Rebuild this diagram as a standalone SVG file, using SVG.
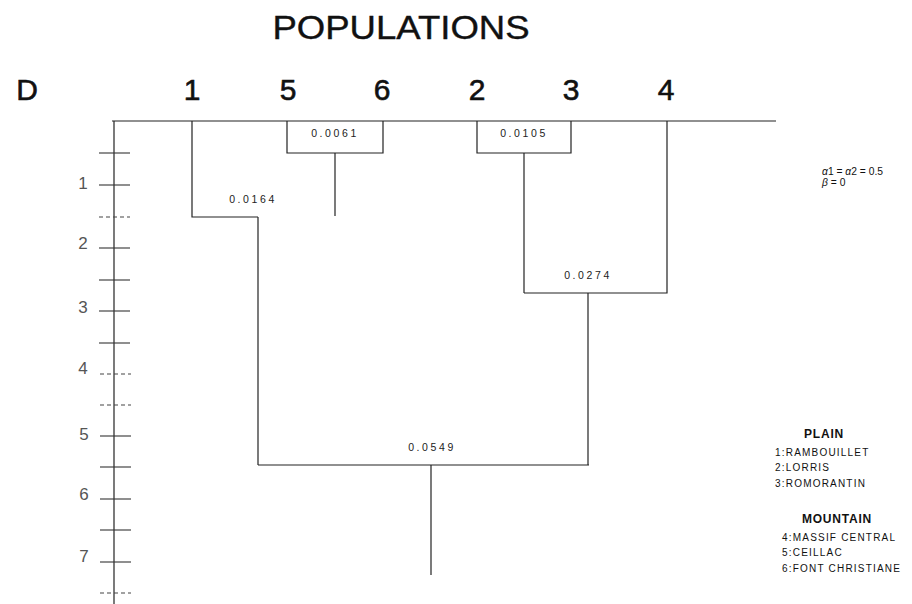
<svg xmlns="http://www.w3.org/2000/svg" width="912" height="604" viewBox="0 0 912 604">
<style>
.ln{stroke:#222;stroke-width:1.2;fill:none}
.tk{stroke:#333;stroke-width:1.1}
.dt{stroke:#444;stroke-width:1.1;stroke-dasharray:4 3}
.big{font-family:"Liberation Sans",Arial,sans-serif;font-size:30px;fill:#111;stroke:#111;stroke-width:0.6;text-anchor:middle}
.val{font-family:"Liberation Sans",Arial,sans-serif;font-size:10.5px;letter-spacing:2.6px;fill:#222;text-anchor:middle}
.ax{font-family:"Liberation Sans",Arial,sans-serif;font-size:17px;fill:#555;text-anchor:middle}
.lg{font-family:"Liberation Sans",Arial,sans-serif;font-size:10px;letter-spacing:1.2px;fill:#111}
.lh{font-family:"Liberation Sans",Arial,sans-serif;font-size:12px;font-weight:bold;letter-spacing:0.8px;fill:#111;text-anchor:middle}
.pr{font-family:"Liberation Sans",Arial,sans-serif;font-size:10.3px;fill:#111}
</style>
<rect width="912" height="604" fill="#fff"/>
<text x="401" y="39" font-family="'Liberation Sans',Arial,sans-serif" font-size="34" fill="#111" stroke="#111" stroke-width="0.4" text-anchor="middle" textLength="257" lengthAdjust="spacingAndGlyphs">POPULATIONS</text>
<text x="27" y="100" class="big">D</text>
<g id="leaf1"><text x="192" y="100" class="big">1</text></g>
<g id="leaf5"><text x="288" y="100" class="big">5</text></g>
<g id="leaf6"><text x="382" y="100" class="big">6</text></g>
<g id="leaf2"><text x="477" y="100" class="big">2</text></g>
<g id="leaf3"><text x="571" y="100" class="big">3</text></g>
<g id="leaf4"><text x="666" y="100" class="big">4</text></g>
<g id="axis">
<line x1="114" y1="121" x2="114" y2="604" class="ln"/>
<line x1="99" y1="153" x2="130" y2="153" class="tk"/>
<line x1="99" y1="185" x2="130" y2="185" class="tk"/>
<line x1="99" y1="217" x2="130" y2="217" class="dt"/>
<line x1="99" y1="248" x2="130" y2="248" class="tk"/>
<line x1="99" y1="280" x2="130" y2="280" class="tk"/>
<line x1="99" y1="311" x2="130" y2="311" class="tk"/>
<line x1="99" y1="343" x2="130" y2="343" class="tk"/>
<line x1="100" y1="374" x2="131" y2="374" class="dt"/>
<line x1="100" y1="405" x2="131" y2="405" class="dt"/>
<line x1="100" y1="436" x2="131" y2="436" class="tk"/>
<line x1="100" y1="467" x2="131" y2="467" class="tk"/>
<line x1="100" y1="499" x2="131" y2="499" class="tk"/>
<line x1="100" y1="530" x2="131" y2="530" class="tk"/>
<line x1="100" y1="562" x2="131" y2="562" class="tk"/>
<line x1="100" y1="593" x2="131" y2="593" class="dt"/>
<text x="83" y="189" class="ax">1</text>
<text x="83" y="249" class="ax">2</text>
<text x="83" y="313" class="ax">3</text>
<text x="83" y="374" class="ax">4</text>
<text x="84" y="440" class="ax">5</text>
<text x="84" y="500" class="ax">6</text>
<text x="84" y="562" class="ax">7</text>
</g>
<g id="connectors">
<line x1="112" y1="121" x2="776" y2="121" class="ln"/>
<polyline points="192,121 192,217 258,217" class="ln"/>
<polyline points="287,121 287,153 383,153 383,121" class="ln"/>
<line x1="335" y1="153" x2="335" y2="216" class="ln"/>
<polyline points="477,121 477,153 571,153 571,121" class="ln"/>
<line x1="524" y1="153" x2="524" y2="293" class="ln"/>
<polyline points="524,293 667,293 667,121" class="ln"/>
<line x1="588" y1="293" x2="588" y2="465" class="ln"/>
<line x1="258" y1="217" x2="258" y2="465" class="ln"/>
<line x1="258" y1="465" x2="589" y2="465" class="ln"/>
<line x1="431" y1="465" x2="431" y2="575" class="ln"/>
</g>
<g id="n56"><text x="335" y="137" class="val">0.0061</text></g>
<g id="n23"><text x="524" y="137" class="val">0.0105</text></g>
<g id="n156"><text x="253" y="203" class="val">0.0164</text></g>
<g id="n234"><text x="588" y="279" class="val">0.0274</text></g>
<g id="nroot"><text x="432" y="451" class="val">0.0549</text></g>
<g id="params">
<text x="822" y="175" class="pr"><tspan font-style="italic">α</tspan>1 = <tspan font-style="italic">α</tspan>2 = 0.5</text>
<text x="822" y="186" class="pr"><tspan font-style="italic">β</tspan> = 0</text>
</g>
<g id="legend">
<text x="824" y="438" class="lh">PLAIN</text>
<text x="775" y="456" class="lg">1:RAMBOUILLET</text>
<text x="775" y="471" class="lg">2:LORRIS</text>
<text x="775" y="487" class="lg">3:ROMORANTIN</text>
<text x="837" y="523" class="lh">MOUNTAIN</text>
<text x="782" y="541" class="lg">4:MASSIF CENTRAL</text>
<text x="782" y="556" class="lg">5:CEILLAC</text>
<text x="782" y="572" class="lg">6:FONT CHRISTIANE</text>
</g>
</svg>
